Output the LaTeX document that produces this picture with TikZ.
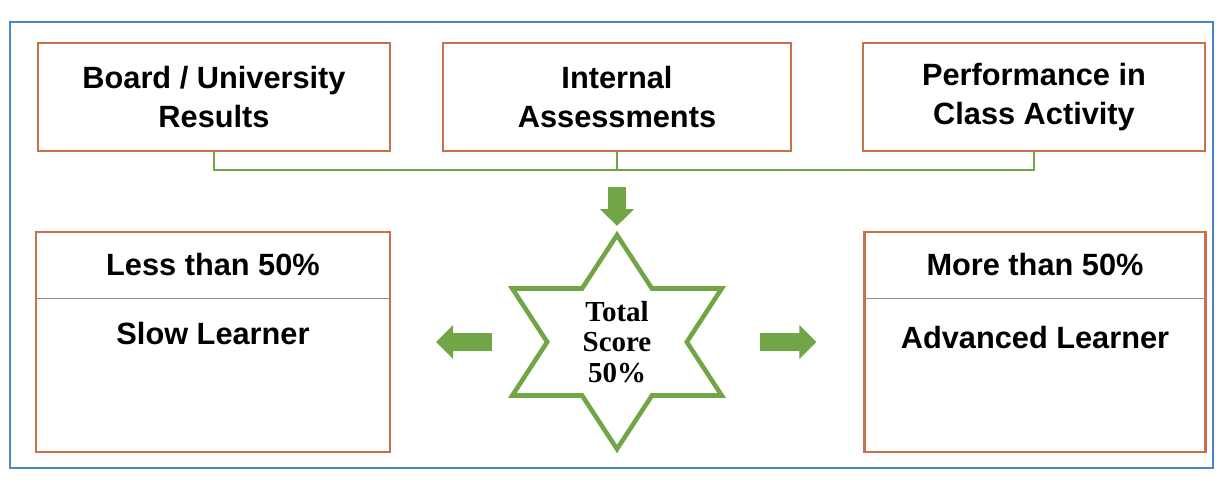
\documentclass[tikz,border=0pt]{standalone}
\usepackage{fontspec}
\setmainfont{Liberation Sans}
\newfontfamily\starfont{Liberation Serif}
\usetikzlibrary{positioning,arrows.meta}
\definecolor{frameblue}{HTML}{4A86C8}
\definecolor{boxorange}{HTML}{C8704A}
\definecolor{bargreen}{HTML}{72A545}
\definecolor{linegray}{HTML}{958C86}

\begin{document}
\begin{tikzpicture}[x=0.02cm,y=-0.02cm,
  srcbox/.style={draw=boxorange, line width=1.3pt, minimum height=2.16cm, align=center, font=\bfseries\fontsize{17.5}{22.7}\selectfont},
  resbox/.style={draw=boxorange, line width=1.3pt, minimum height=4.4cm},
  hdr/.style={minimum height=1.34cm, font=\bfseries\fontsize{17.5}{22.7}\selectfont},
  txt/.style={inner sep=0pt, font=\bfseries\fontsize{17.5}{22.7}\selectfont},
  bus/.style={draw=bargreen, line width=1.3pt},
  blockarrow/.style={bargreen, line width=0.36cm, -{Triangle[width=0.66cm,length=0.34cm]}},
  starline/.style={draw=bargreen, line width=2.6pt}]
\useasboundingbox (0,0) rectangle (1221,487);
\draw [frameblue, line width=1.6pt] (10,22) rectangle (1213,468);

\node[srcbox, minimum width=7.04cm] (board) at (214,97) {Board / University\\Results};
\node[srcbox, minimum width=6.96cm] (internal) at (617,97) {Internal\\Assessments};
\node[srcbox, minimum width=6.84cm] (perf) at (1034,97) {Performance in\\Class Activity};

\coordinate (bus) at (617,170);
\draw [bus] (board.south) |- (bus) -| (perf.south);
\draw [bus] (internal.south) -- (bus);

\node[font=\starfont\bfseries\fontsize{16.5}{17.5}\selectfont, align=center] (total) at (617,342) {Total\\Score\\50\%};
\draw [starline, shift={(total.center)}, xscale=1.13] (90:107) -- (60:61.8) -- (30:107) -- (0:61.8) -- (-30:107) -- (-60:61.8) -- (-90:107) -- (-120:61.8) -- (-150:107) -- (180:61.8) -- (150:107) -- (120:61.8) -- cycle;

\node[resbox, minimum width=7.08cm] (slow) at (213,342) {};
\node[hdr, minimum width=7.08cm, anchor=north] (lessthan) at (slow.north) {Less than 50\%};
\draw [linegray, line width=0.8pt] (lessthan.south west) -- (lessthan.south east);
\node[txt, below=0.46cm of lessthan] (slowtxt) {Slow Learner};

\node[resbox, minimum width=6.82cm] (adv) at (1035,342) {};
\node[hdr, minimum width=6.82cm, anchor=north] (morethan) at (adv.north) {More than 50\%};
\draw [linegray, line width=0.8pt] (morethan.south west) -- (morethan.south east);
\node[txt, below=0.55cm of morethan] (advtxt) {Advanced Learner};

\draw [blockarrow, shorten <=0.34cm, shorten >=2.32cm] (bus) -- (total.center);
\draw [blockarrow, shorten <=2.5cm, shorten >=0.9cm] (total.center) -- (slow.east);
\draw [blockarrow, shorten <=2.86cm, shorten >=0.94cm] (total.center) -- (adv.west);
\end{tikzpicture}
\end{document}
